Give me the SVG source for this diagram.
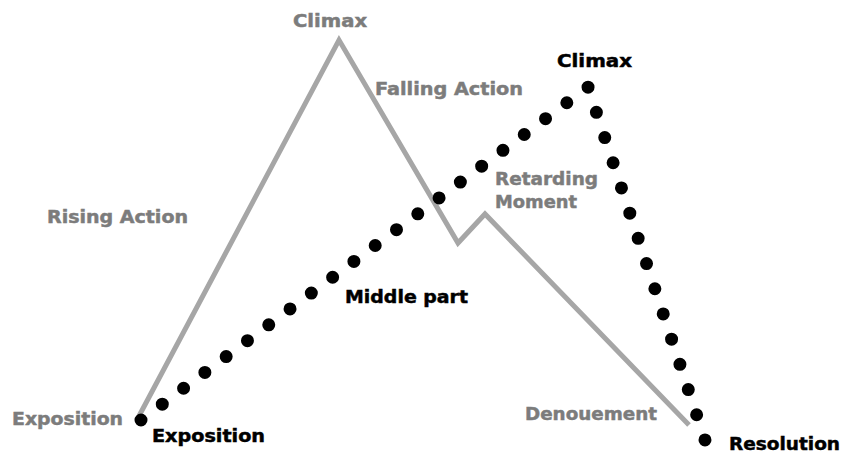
<svg xmlns="http://www.w3.org/2000/svg" width="845" height="454" viewBox="0 0 845 454">
  <style>
    .lbl { font-family: "DejaVu Sans", Verdana, sans-serif; font-weight: bold; font-size: 18px; stroke-width: 0.5px; }
    .gray { fill: #7c7c7c; stroke: #7c7c7c; }
    .dark { fill: #000000; stroke: #000000; }
    .arc-gray { fill: none; stroke: #a6a6a6; stroke-width: 5; stroke-linejoin: miter; }
    .arc-dots { fill: none; stroke: #000000; stroke-width: 13; stroke-linecap: round; stroke-dasharray: 0 26.55; }
  </style>
  <rect width="845" height="454" fill="#ffffff"/>

  <g id="connectors">
    <!-- Freytag pyramid (five-act) -->
    <polyline id="arc-five-act" class="arc-gray" points="139,416 339,40 458,243 485,214 689,425"/>
    <!-- three-part arc drawn as dots -->
    <polyline id="arc-three-part" class="arc-dots" points="141,420 588,87 705,440"/>
  </g>

  <g id="exposition-a"><text class="lbl gray" x="12" y="425" textLength="111" lengthAdjust="spacingAndGlyphs">Exposition</text></g>
  <g id="rising-action"><text class="lbl gray" x="47" y="223" textLength="141" lengthAdjust="spacingAndGlyphs">Rising Action</text></g>
  <g id="climax-a"><text class="lbl gray" x="293" y="27" textLength="74" lengthAdjust="spacingAndGlyphs">Climax</text></g>
  <g id="falling-action"><text class="lbl gray" x="375" y="95" textLength="148" lengthAdjust="spacingAndGlyphs">Falling Action</text></g>
  <g id="retarding-moment">
    <text class="lbl gray" x="495" y="185" textLength="103" lengthAdjust="spacingAndGlyphs">Retarding</text>
    <text class="lbl gray" x="495" y="208" textLength="82" lengthAdjust="spacingAndGlyphs">Moment</text>
  </g>
  <g id="denouement"><text class="lbl gray" x="525" y="420" textLength="132" lengthAdjust="spacingAndGlyphs">Denouement</text></g>

  <g id="exposition-b"><text class="lbl dark" x="152" y="442" textLength="113" lengthAdjust="spacingAndGlyphs">Exposition</text></g>
  <g id="middle-part"><text class="lbl dark" x="345" y="303" textLength="123" lengthAdjust="spacingAndGlyphs">Middle part</text></g>
  <g id="climax-b"><text class="lbl dark" x="557" y="67" textLength="75" lengthAdjust="spacingAndGlyphs">Climax</text></g>
  <g id="resolution"><text class="lbl dark" x="729" y="450" textLength="111" lengthAdjust="spacingAndGlyphs">Resolution</text></g>
</svg>
